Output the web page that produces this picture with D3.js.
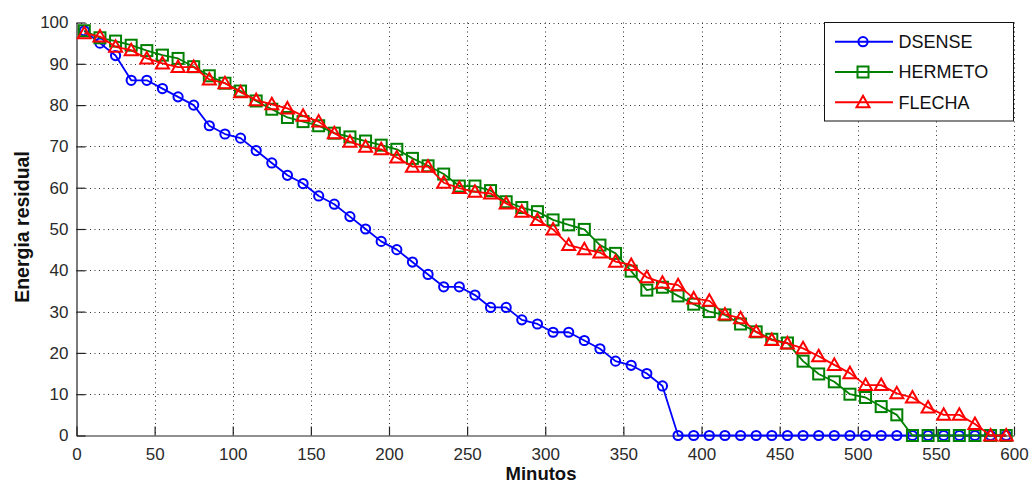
<!DOCTYPE html>
<html>
<head>
<meta charset="utf-8">
<script src="https://cdn.jsdelivr.net/npm/d3@7"></script>
<style>
  html, body { margin: 0; padding: 0; background: #fff; }
  svg { display: block; font-family: "Liberation Sans", Arial, sans-serif; }
</style>
</head>
<body>
<svg id="chart" width="1033" height="484"></svg>
<script>
// Time samples (minutes)
const minutes = d3.range(5, 600, 10);

// Residual energy per protocol
const dsense = [98, 95, 92, 86, 86, 84, 82, 80, 75, 73,
                72, 69, 66, 63, 61, 58, 56, 53, 50, 47,
                45, 42, 39, 36, 36, 34, 31, 31, 28, 27,
                25, 25, 23, 21, 18, 17, 15, 12, 0, 0,
                0, 0, 0, 0, 0, 0, 0, 0, 0, 0,
                0, 0, 0, 0, 0, 0, 0, 0, 0, 0];
const hermeto = [98, 96.3, 95.5, 94.5, 93.2, 92.1, 91.3, 89.3, 87.1, 85.3,
                 83.4, 81, 79, 77, 76, 75, 73.2, 72.3, 71.3, 70.3,
                 69.3, 67.1, 65.3, 63.3, 60.4, 60.4, 59.3, 56.6, 55.2, 54.2,
                 52.2, 51, 49.9, 46.1, 44.1, 39.8, 35.2, 35.9, 33.8, 31.8,
                 30, 29.2, 27, 25.1, 23.3, 22.4, 18, 14.9, 13, 10,
                 9.2, 7, 5, 0, 0, 0, 0, 0, 0, 0];
const flecha = [97.4, 96.6, 94.1, 93.3, 91.3, 90.1, 89.2, 89.2, 86.2, 85.3,
                83.1, 81.2, 80.2, 79.2, 77.4, 76, 73.2, 71.1, 69.9, 69.3,
                67.3, 65.1, 65.1, 61.2, 59.9, 59, 58.6, 56.2, 54.2, 52.2,
                49.9, 46.1, 45.1, 44.3, 42.1, 41.3, 38.3, 37, 36.4, 33.2,
                32.6, 29.3, 28.4, 25.1, 23.1, 22.3, 21.1, 19.2, 17.1, 15.1,
                12.2, 12.2, 10.2, 9.2, 6.8, 5, 5, 2.8, 0, 0];

const seriesNames = ["DSENSE", "HERMETO", "FLECHA"];
const seriesColors = ["#0000ff", "#008000", "#ff0000"];
const seriesMarkers = ["circle", "square", "triangle"];
const xTicks = d3.range(0, 601, 50);
const yTicks = d3.range(0, 101, 10);
const xTitle = "Minutos";
const yTitle = "Energia residual";

const svg = d3.select("#chart");
const plotLeft = 76.5, plotRight = 1014, plotTop = 22.5, plotBottom = 435.5;

const x = d3.scaleLinear().domain([0, 600]).range([plotLeft, plotRight]);
const y = d3.scaleLinear().domain([0, 100]).range([plotBottom, plotTop]);

// Dotted grid
const grid = svg.append("g").attr("stroke", "#333").attr("stroke-width", 1)
  .attr("stroke-dasharray", "1,3.5");
grid.selectAll("line.vx").data(xTicks.filter(d => d > 0)).join("line")
  .attr("x1", d => Math.round(x(d)) + 0.5).attr("x2", d => Math.round(x(d)) + 0.5)
  .attr("y1", plotTop).attr("y2", plotBottom);
grid.selectAll("line.hy").data(yTicks.filter(d => d > 0)).join("line")
  .attr("y1", d => Math.round(y(d)) + 0.5).attr("y2", d => Math.round(y(d)) + 0.5)
  .attr("x1", plotLeft).attr("x2", plotRight);

// Axes (ticks pointing into the plot)
const xAxis = d3.axisBottom(x).tickValues(xTicks).tickSizeInner(-9).tickSizeOuter(0).tickPadding(12);
const yAxis = d3.axisLeft(y).tickValues(yTicks).tickSizeInner(-9).tickSizeOuter(0).tickPadding(8);

const gx = svg.append("g").attr("transform", `translate(0,${plotBottom})`).call(xAxis);
const gy = svg.append("g").attr("transform", `translate(${plotLeft},0)`).call(yAxis);
[gx, gy].forEach(g => {
  g.select(".domain").attr("stroke", "#222").attr("stroke-width", 1.2);
  g.selectAll(".tick line").attr("stroke", "#222").attr("stroke-width", 1.2);
  g.selectAll(".tick text").attr("fill", "#2a2a2a")
    .style("font-family", "'Liberation Sans', Arial, sans-serif").style("font-size", "17px");
});
gx.selectAll(".tick text").attr("dy", "0.71em");

// Axis titles
svg.append("text").attr("x", 541).attr("y", 480).attr("text-anchor", "middle")
  .style("font-size", "18.5px").style("font-weight", "bold").attr("fill", "#111").text(xTitle);
svg.append("text").attr("transform", "translate(29,227) rotate(-90)").attr("text-anchor", "middle")
  .style("font-size", "19.5px").style("font-weight", "bold").attr("fill", "#111").text(yTitle);

// Marker drawing helper
function drawMarker(sel, kind, color) {
  if (kind === "circle") {
    sel.append("circle").attr("r", 4.6);
  } else if (kind === "square") {
    sel.append("rect").attr("x", -5.5).attr("y", -5.5).attr("width", 11).attr("height", 11);
  } else {
    sel.append("path").attr("d", "M0,-6.5L6.5,5L-6.5,5Z");
  }
  sel.selectAll("circle,rect,path").attr("fill", "none").attr("stroke", color).attr("stroke-width", 2);
}

const seriesData = [dsense, hermeto, flecha];
const line = d3.line().x(d => x(d[0])).y(d => y(d[1]));

seriesData.forEach((vals, i) => {
  const pts = minutes.map((m, k) => [m, vals[k]]);
  const g = svg.append("g");
  g.append("path").datum(pts).attr("d", line).attr("fill", "none")
    .attr("stroke", seriesColors[i]).attr("stroke-width", 1.8).attr("stroke-linejoin", "round");
  g.selectAll("g.mk").data(pts).join("g").attr("class", "mk")
    .attr("transform", d => `translate(${x(d[0])},${y(d[1])})`)
    .each(function () { drawMarker(d3.select(this), seriesMarkers[i], seriesColors[i]); });
});

// Legend
const lg = svg.append("g");
lg.append("rect").attr("x", 824.5).attr("y", 22.5).attr("width", 189).attr("height", 98.5)
  .attr("fill", "#fff").attr("stroke", "#111").attr("stroke-width", 1);
seriesNames.forEach((name, i) => {
  const cy = 41.7 + i * 30.3;
  lg.append("line").attr("x1", 835).attr("x2", 893).attr("y1", cy).attr("y2", cy)
    .attr("stroke", seriesColors[i]).attr("stroke-width", 2);
  const m = lg.append("g").attr("transform", `translate(863,${cy})`);
  drawMarker(m, seriesMarkers[i], seriesColors[i]);
  lg.append("text").attr("x", 898.5).attr("y", cy).attr("dy", "0.36em")
    .style("font-size", "18px").attr("fill", "#111").text(name);
});
</script>
</body>
</html>
